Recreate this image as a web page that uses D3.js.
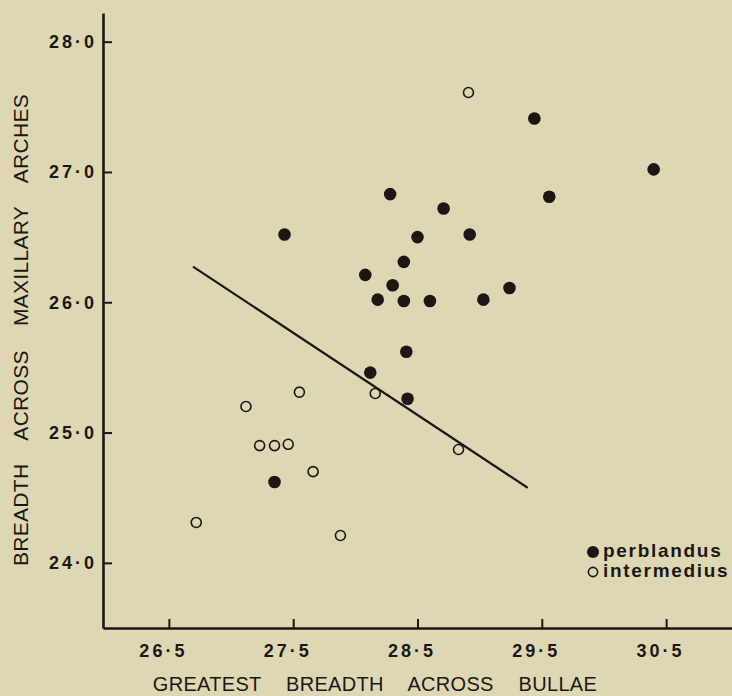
<!DOCTYPE html>
<html>
<head>
<meta charset="utf-8">
<script src="https://cdn.jsdelivr.net/npm/d3@7"></script>
<style>
  html, body { margin: 0; padding: 0; background: #ded7b3; }
  svg { display: block; }
  .tick text { font-family: "Liberation Sans", Arial, sans-serif; font-weight: bold; font-size: 18px; letter-spacing: 3px; fill: #1c1714; }
  .title { font-family: "Liberation Sans", Arial, sans-serif; fill: #1c1714; }
</style>
</head>
<body>
<svg id="chart"></svg>
<script>
// perblandus (filled)
const perbX = [28.28, 28.71, 27.43, 28.50, 28.92, 28.39, 28.08, 28.30, 28.18, 28.39,
               28.60, 29.03, 29.24, 29.44, 30.40, 29.56, 28.41, 28.12, 28.42, 27.35];
const perbY = [26.83, 26.72, 26.52, 26.50, 26.52, 26.31, 26.21, 26.13, 26.02, 26.01,
               26.01, 26.02, 26.11, 27.41, 27.02, 26.81, 25.62, 25.46, 25.26, 24.62];

// intermedius (open)
const interX = [28.91, 28.16, 27.55, 27.12, 27.23, 27.35, 27.46, 27.66, 28.83, 26.72, 27.88];
const interY = [27.61, 25.30, 25.31, 25.20, 24.90, 24.90, 24.91, 24.70, 24.87, 24.31, 24.21];

// fitted line end points
const lineX = [26.70, 29.38];
const lineY = [26.27, 24.58];

const xTicks = [26.5, 27.5, 28.5, 29.5, 30.5];
const yTicks = [24, 25, 26, 27, 28];

const seriesNames = ['perblandus', 'intermedius'];

const config = {
  width: 732, height: 696,
  margin: {top: 13, right: 0, bottom: 68, left: 103},
  ink: '#1c1714',
  bg: '#ded7b3'
};

const width = config.width - config.margin.left - config.margin.right;
const height = config.height - config.margin.top - config.margin.bottom;

const svg = d3.select('#chart')
  .attr('width', config.width)
  .attr('height', config.height);

svg.append('rect')
  .attr('width', config.width)
  .attr('height', config.height)
  .attr('fill', config.bg);

const chart = svg.append('g')
  .attr('transform', `translate(${config.margin.left},${config.margin.top})`);

const xScale = d3.scaleLinear().domain([25.97, 31.03]).range([0, width]);
const yScale = d3.scaleLinear().domain([23.5, 28.22]).range([height, 0]);

const fmt = d => d3.format('.1f')(d).replace('.', '·');

const xAxis = d3.axisBottom(xScale)
  .tickValues(xTicks)
  .tickSizeInner(-9)
  .tickSizeOuter(0)
  .tickPadding(16)
  .tickFormat(fmt);

const yAxis = d3.axisLeft(yScale)
  .tickValues(yTicks)
  .tickSizeInner(-9)
  .tickSizeOuter(0)
  .tickPadding(6)
  .tickFormat(fmt);

const xg = chart.append('g')
  .attr('transform', `translate(0,${height})`)
  .call(xAxis);
xg.selectAll('.tick text').attr('dx', -6);

const yg = chart.append('g').call(yAxis);

chart.selectAll('.domain').attr('stroke', config.ink).attr('stroke-width', 2.6);
chart.selectAll('.tick line').attr('stroke', config.ink).attr('stroke-width', 2);

// fitted line
chart.append('line')
  .attr('x1', xScale(lineX[0])).attr('y1', yScale(lineY[0]))
  .attr('x2', xScale(lineX[1])).attr('y2', yScale(lineY[1]))
  .attr('stroke', config.ink)
  .attr('stroke-width', 2.2)
  .attr('stroke-linecap', 'round');

// points
chart.append('g')
  .selectAll('circle')
  .data(interX.map((x, i) => ({x: x, y: interY[i]})))
  .join('circle')
    .attr('cx', d => xScale(d.x))
    .attr('cy', d => yScale(d.y))
    .attr('r', 5)
    .attr('fill', 'none')
    .attr('stroke', config.ink)
    .attr('stroke-width', 1.6);

chart.append('g')
  .selectAll('circle')
  .data(perbX.map((x, i) => ({x: x, y: perbY[i]})))
  .join('circle')
    .attr('cx', d => xScale(d.x))
    .attr('cy', d => yScale(d.y))
    .attr('r', 6.3)
    .attr('fill', config.ink);

// legend
const legend = svg.append('g').attr('transform', 'translate(593,552)');
legend.append('circle').attr('r', 6).attr('fill', config.ink);
legend.append('circle').attr('cy', 20).attr('r', 4.6)
  .attr('fill', 'none').attr('stroke', config.ink).attr('stroke-width', 1.6);
legend.selectAll('text')
  .data(seriesNames)
  .join('text')
    .attr('class', 'title')
    .attr('x', 10)
    .attr('y', (d, i) => 5 + i * 20)
    .style('font-size', '19px')
    .style('font-weight', 'bold')
    .style('letter-spacing', '1.7px')
    .text(d => d);

// axis titles
svg.append('text')
  .attr('class', 'title')
  .attr('x', 375)
  .attr('y', 691)
  .attr('text-anchor', 'middle')
  .style('font-size', '20px')
  .style('word-spacing', '19px')
  .style('letter-spacing', '0.3px')
  .text('GREATEST BREADTH ACROSS BULLAE');

svg.append('text')
  .attr('class', 'title')
  .attr('transform', 'translate(28,330) rotate(-90)')
  .attr('text-anchor', 'middle')
  .style('font-size', '21px')
  .style('word-spacing', '18px')
  .style('letter-spacing', '0.3px')
  .text('BREADTH ACROSS MAXILLARY ARCHES');
</script>
</body>
</html>
